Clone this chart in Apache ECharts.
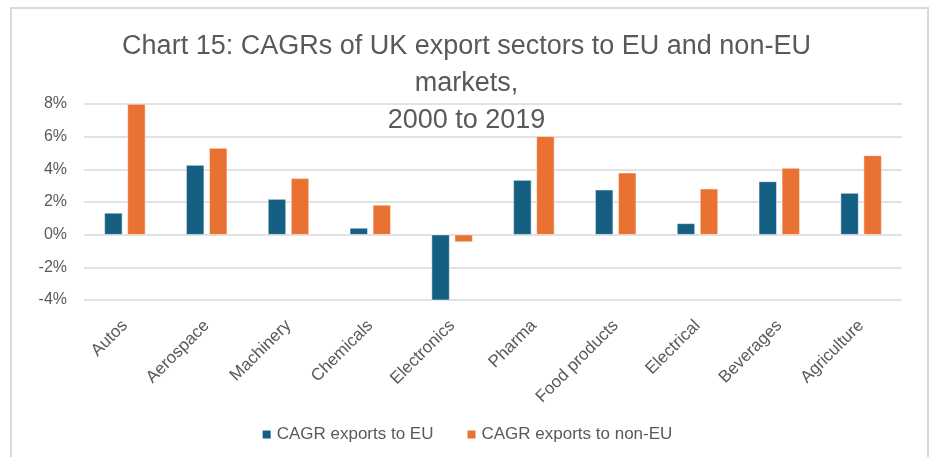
<!DOCTYPE html>
<html>
<head>
<meta charset="utf-8">
<script src="https://cdn.jsdelivr.net/npm/echarts@6/dist/echarts.min.js"></script>
<style>
  html, body { margin: 0; padding: 0; background: #ffffff; }
  #chart { width: 933px; height: 457px; }
</style>
</head>
<body>
<div id="chart"></div>
<script>
// Sectors and compound annual growth rates (%), 2000 to 2019
const sectors = ['Autos', 'Aerospace', 'Machinery', 'Chemicals', 'Electronics',
                 'Pharma', 'Food products', 'Electrical', 'Beverages', 'Agriculture'];
const cagrEU    = [1.33, 4.26, 2.18, 0.41, -4.06, 3.34, 2.75, 0.69, 3.26, 2.55];
const cagrNonEU = [8.00, 5.30, 3.45, 1.82, -0.45, 6.03, 3.79, 2.81, 4.08, 4.85];
const yTicks = { min: -4, max: 8, step: 2 };

const labelColor = '#595959';
const font = 'Liberation Sans, Arial, sans-serif';

const chart = echarts.init(document.getElementById('chart'), null, { renderer: 'canvas' });

chart.setOption({
  backgroundColor: '#ffffff',
  animation: false,
  graphic: [{
    type: 'rect',
    shape: { x: 11, y: 8, width: 917, height: 470 },
    style: { fill: 'none', stroke: '#d9d9d9', lineWidth: 2 },
    silent: true, z: -1
  }],
  title: {
    text: 'Chart 15: CAGRs of UK export sectors to EU and non-EU\nmarkets,\n2000 to 2019',
    left: 'center',
    top: 23,
    textStyle: {
      fontFamily: font,
      fontSize: 27,
      fontWeight: 'normal',
      color: labelColor,
      lineHeight: 37
    }
  },
  legend: {
    bottom: 9,
    left: 'center',
    itemWidth: 10,
    itemHeight: 10,
    itemGap: 32,
    icon: 'rect',
    textStyle: { fontFamily: font, fontSize: 17, color: labelColor },
    data: ['CAGR exports to EU', 'CAGR exports to non-EU']
  },
  grid: { left: 84, right: 31, top: 104, bottom: 457 - 300 },
  xAxis: {
    type: 'category',
    data: sectors,
    axisLine: { show: false },
    axisTick: { show: false },
    axisLabel: {
      rotate: 45,
      interval: 0,
      margin: 23,
      fontFamily: font,
      fontSize: 17,
      color: labelColor
    }
  },
  yAxis: {
    type: 'value',
    min: yTicks.min,
    max: yTicks.max,
    interval: yTicks.step,
    axisLine: { show: false },
    axisTick: { show: false },
    splitLine: { lineStyle: { color: '#d9d9d9', width: 1.5 } },
    axisLabel: {
      formatter: v => v + '%',
      margin: 17,
      fontFamily: font,
      fontSize: 16,
      color: labelColor
    }
  },
  series: [
    {
      name: 'CAGR exports to EU',
      type: 'bar',
      data: cagrEU,
      barWidth: 18,
      barGap: '28%',
      itemStyle: { color: '#156082', borderColor: '#ffffff', borderWidth: 0.5 }
    },
    {
      name: 'CAGR exports to non-EU',
      type: 'bar',
      data: cagrNonEU,
      barWidth: 18,
      barGap: '28%',
      itemStyle: { color: '#e97132', borderColor: '#ffffff', borderWidth: 0.5 }
    }
  ]
});
</script>
</body>
</html>
